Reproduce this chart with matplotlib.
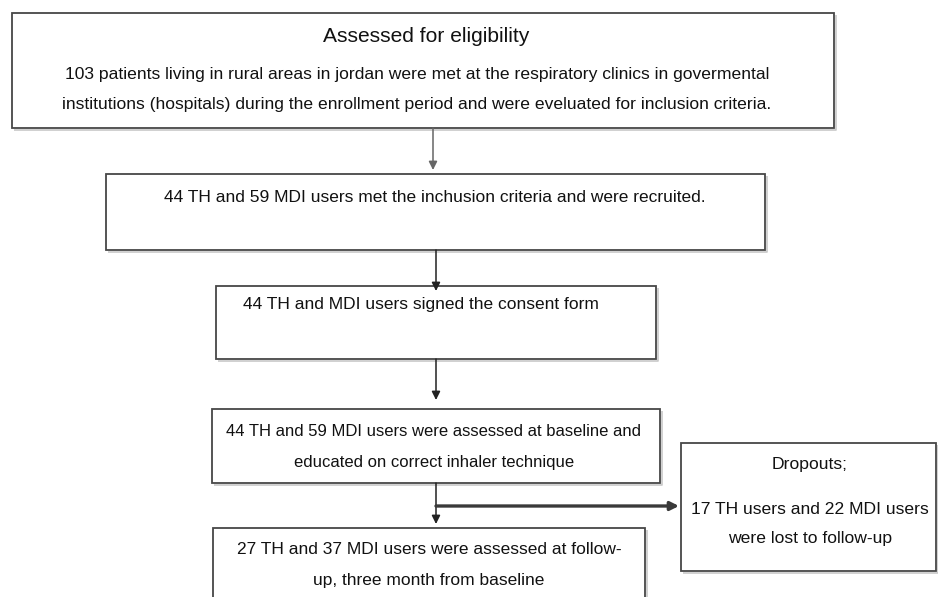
import matplotlib
matplotlib.use("Agg")
import matplotlib.pyplot as plt
from matplotlib.patches import Rectangle

plt.rcParams['font.family'] = ['Liberation Sans', 'DejaVu Sans']

# ---- content ----
title_text = "Assessed for eligibility"
box1_lines = ["103 patients living in rural areas in jordan were met at the respiratory clinics in govermental",
              "institutions (hospitals) during the enrollment period and were eveluated for inclusion criteria."]
box2_lines = ["44 TH and 59 MDI users met the inchusion criteria and were recruited."]
box3_lines = ["44 TH and MDI users signed the consent form"]
box4_lines = ["44 TH and 59 MDI users were assessed at baseline and",
              "educated on correct inhaler technique"]
box5_lines = ["27 TH and 37 MDI users were assessed at follow-",
              "up, three month from baseline"]
drop_lines = ["Dropouts;", "17 TH users and 22 MDI users", "were lost to follow-up"]

W, H = 938, 597
fig = plt.figure(figsize=(W / 100, H / 100), dpi=100)
ax = fig.add_axes([0, 0, 1, 1])
ax.set_xlim(0, W)
ax.set_ylim(H, 0)
ax.axis('off')

EDGE = '#474747'
SHADOW = '#c8c8c8'
TXT = '#111111'


def box(x0, y0, x1, y1):
    # light shadow
    ax.plot([x0 + 2, x1 + 2, x1 + 2], [y1 + 2, y1 + 2, y0 + 2], color=SHADOW, lw=1.2,
            solid_capstyle='butt', zorder=1)
    ax.add_patch(Rectangle((x0, y0), x1 - x0, y1 - y0, facecolor='white',
                           edgecolor=EDGE, lw=1.3, zorder=2))


def arrow(x, y0, y1, color='#222222', lw=1.1):
    ax.annotate('', xy=(x, y1), xytext=(x, y0),
                arrowprops=dict(arrowstyle='-|>,head_length=0.5,head_width=0.25',
                                color=color, lw=lw, shrinkA=0, shrinkB=0), zorder=3)


# Box 1
box(12, 13, 834, 128)
ax.text(426, 36, title_text, ha='center', va='center', fontsize=15.1, color=TXT, zorder=4)
for i, t in enumerate(box1_lines):
    ax.text(417, 75 + i * 30, t, ha='center', va='center', fontsize=12.6, color=TXT, zorder=4)

arrow(433, 128, 170, color='#666666')

# Box 2
box(106, 174, 765, 250)
for i, t in enumerate(box2_lines):
    ax.text(435, 197, t, ha='center', va='center', fontsize=12.5, color=TXT, zorder=4)

arrow(436, 250, 291)

# Box 3
box(216, 286, 656, 359)
for i, t in enumerate(box3_lines):
    ax.text(243, 305, t, ha='left', va='center', fontsize=12.5, color=TXT, zorder=4)

arrow(436, 359, 400)

# Box 4
box(212, 409, 660, 483)
for i, t in enumerate(box4_lines):
    ax.text(434, 432 + i * 30, t, ha='center', va='center', fontsize=12.0, color=TXT, zorder=4)

# Box 5 (clipped at bottom)
box(213, 528, 645, 610)
for i, t in enumerate(box5_lines):
    ax.text(429, 550 + i * 30, t, ha='center', va='center', fontsize=12.5, color=TXT, zorder=4)

arrow(436, 483, 524)

# Dropouts box
box(681, 443, 936, 571)
drop_y = [465, 510, 538]
for t, y in zip(drop_lines, drop_y):
    ax.text(810, y, t, ha='center', va='center', fontsize=12.6, color=TXT, zorder=4)

# horizontal thick branch
ax.annotate('', xy=(679, 506), xytext=(436, 506),
            arrowprops=dict(arrowstyle='-|>,head_length=0.5,head_width=0.25',
                            color='#3a3a3a', lw=2.4, shrinkA=0, shrinkB=0), zorder=3)

fig.savefig('out.png', dpi=100)
